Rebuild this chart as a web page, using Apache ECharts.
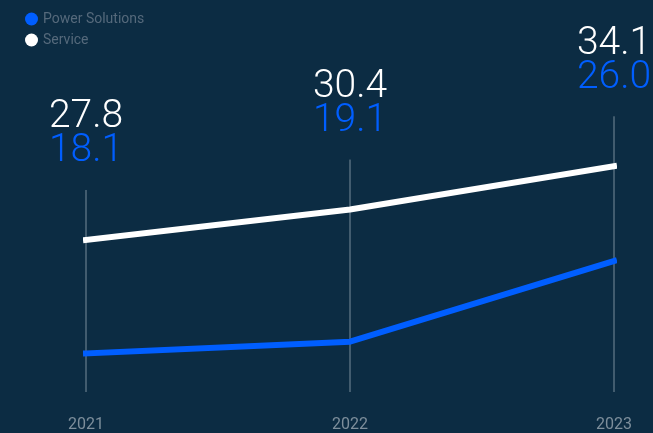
<!DOCTYPE html>
<html>
<head>
<meta charset="utf-8">
<script src="https://cdn.jsdelivr.net/npm/echarts@6/dist/echarts.min.js"></script>
<style>
  html, body { margin: 0; padding: 0; background: #0c2c43; }
  #chart { width: 653px; height: 433px; }
</style>
</head>
<body>
<div id="chart"></div>
<script>
// Revenue by segment
const years = ['2021', '2022', '2023'];
const powerSolutions = [18.1, 19.1, 26.0];
const service = [27.8, 30.4, 34.1];

const BG = '#0c2c43';
const BLUE = '#005eff';
const WHITE = '#ffffff';
const FONT = 'Roboto, "Open Sans", sans-serif';

const chart = echarts.init(document.getElementById('chart'), null, { renderer: 'canvas' });

// Vertical guide per year with the two values stacked above it
function renderGuide(params, api) {
  const cs = params.coordSys;
  const svc = api.coord([api.value(0), api.value(1)]);
  const x = svc[0];
  const bottom = cs.y + cs.height;
  const top = svc[1] - 50;
  const blueBottom = top - 19;
  const whiteBottom = blueBottom - 34;
  return {
    type: 'group',
    children: [
      {
        type: 'line',
        shape: { x1: x, y1: bottom, x2: x, y2: top },
        style: { stroke: 'rgba(170,182,192,0.7)', lineWidth: 1 }
      },
      {
        type: 'text',
        style: {
          x: x, y: whiteBottom,
          text: api.value(1).toFixed(1),
          fill: WHITE, font: '300 39px ' + FONT,
          align: 'center', verticalAlign: 'bottom'
        }
      },
      {
        type: 'text',
        style: {
          x: x, y: blueBottom,
          text: api.value(2).toFixed(1),
          fill: BLUE, font: '300 39px ' + FONT,
          align: 'center', verticalAlign: 'bottom'
        }
      }
    ]
  };
}

chart.setOption({
  backgroundColor: BG,
  animation: false,
  legend: {
    orient: 'vertical',
    left: 20,
    top: 7,
    icon: 'circle',
    itemWidth: 13,
    itemHeight: 13,
    itemGap: 7,
    data: ['Power Solutions', 'Service'],
    textStyle: { color: '#55697b', fontSize: 14, fontFamily: FONT }
  },
  grid: { left: 86, right: 39, top: 40, bottom: 36, containLabel: false },
  xAxis: {
    type: 'category',
    data: years,
    boundaryGap: false,
    axisLine: { show: false },
    axisTick: { show: false },
    splitLine: { show: false },
    axisLabel: { color: '#7d8e9b', fontSize: 16, fontFamily: FONT, margin: 25 }
  },
  yAxis: {
    type: 'value',
    min: 14.8,
    max: 44.9,
    show: false,
    splitLine: { show: false }
  },
  series: [
    {
      type: 'custom',
      name: 'guides',
      renderItem: renderGuide,
      data: years.map((y, i) => [i, service[i], powerSolutions[i]]),
      encode: { x: 0, y: 1 },
      z: 1,
      silent: true
    },
    {
      name: 'Power Solutions',
      type: 'line',
      data: powerSolutions,
      color: BLUE,
      symbol: 'none',
      clip: false,
      lineStyle: { color: BLUE, width: 6, cap: 'square' },
      z: 3
    },
    {
      name: 'Service',
      type: 'line',
      data: service,
      color: WHITE,
      symbol: 'none',
      clip: false,
      lineStyle: { color: WHITE, width: 6, cap: 'square' },
      z: 3
    }
  ]
});
</script>
</body>
</html>
